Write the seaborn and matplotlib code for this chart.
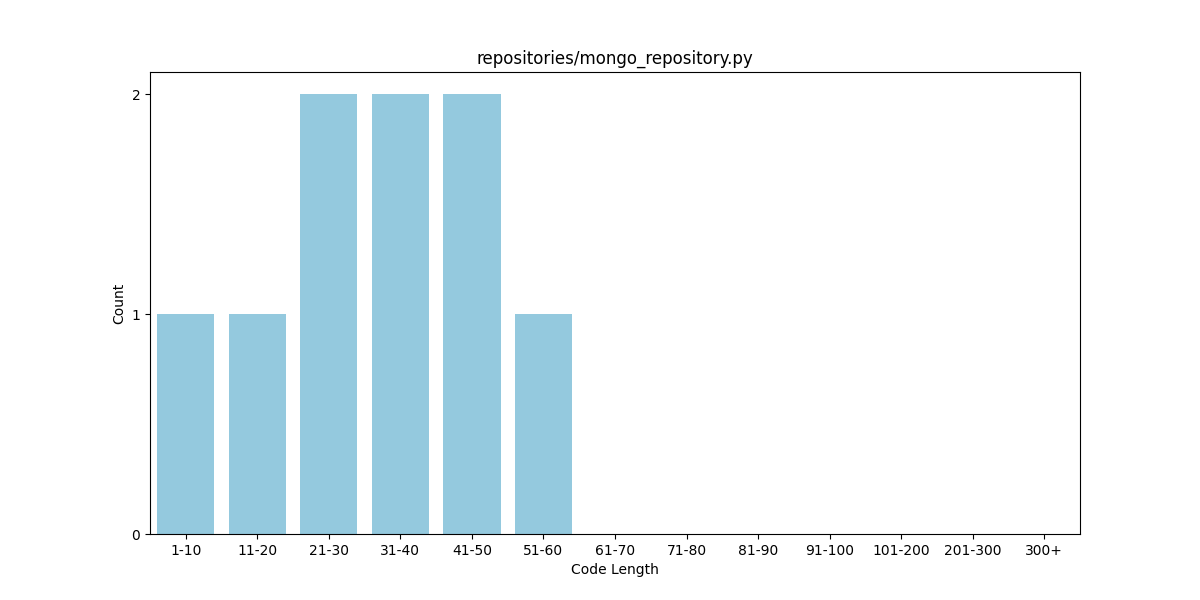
import matplotlib
matplotlib.use("Agg")
import matplotlib.pyplot as plt
import seaborn as sns
import pandas as pd

# code length bins and counts
bins = ["1-10", "11-20", "21-30", "31-40", "41-50", "51-60", "61-70",
        "71-80", "81-90", "91-100", "101-200", "201-300", "300+"]
counts = [1, 1, 2, 2, 2, 1, 0, 0, 0, 0, 0, 0, 0]

df = pd.DataFrame({"Code Length": bins, "Count": counts})

fig, ax = plt.subplots(figsize=(12, 6), dpi=100)
sns.barplot(data=df, x="Code Length", y="Count", color="skyblue", ax=ax)
ax.set_yticks([0, 1, 2])
ax.set_title("repositories/mongo_repository.py")
fig.savefig("out.png")
